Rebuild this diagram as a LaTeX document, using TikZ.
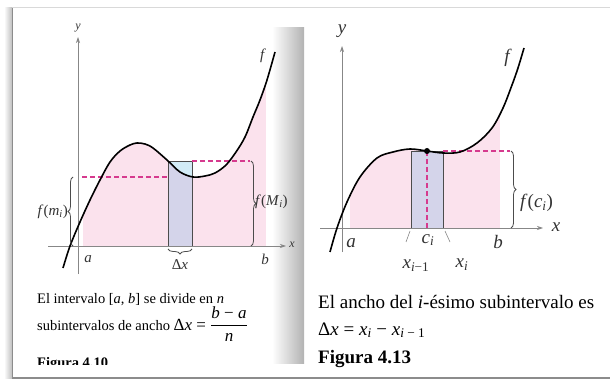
\documentclass[tikz,border=0pt]{standalone}
\usepackage{amsmath}
\usepackage{fontspec}
\setmainfont{Liberation Serif}
\usepackage{tikz}
\usetikzlibrary{arrows.meta,decorations.pathreplacing}

\definecolor{areapink}{RGB}{251,226,237}
\definecolor{rectlav}{RGB}{212,212,234}
\definecolor{rectcyan}{RGB}{210,236,247}
\definecolor{dashpink}{RGB}{214,58,142}
\definecolor{axisgray}{RGB}{135,135,135}

\newcommand{\curvel}{plot[smooth,tension=0.55] coordinates {(63,268) (70,246) (80,222) (90,200) (100,180) (110,162) (120,151) (130,145) (137,143) (145,144) (153,148) (167,160) (180,172) (193,177) (205,176) (215,173) (226,165) (236,152) (245,137) (253,117) (260,100) (267,80) (275,52)}}
\newcommand{\curver}{plot[smooth,tension=0.55] coordinates {(330,252) (337,228) (347,202) (360,177) (377,158) (393,152) (410,149) (427,151) (443,153) (460,152) (477,143) (492,128) (503,108) (512,85) (518,68) (524,48)}}

\begin{document}
\begin{tikzpicture}[x=1pt,y=-1pt,
  axis/.style={axisgray,line width=0.7pt,-{Stealth[length=6pt,width=4pt]}},
  fcurve/.style={line width=1.6pt,black},
  dashln/.style={dashpink,line width=1.1pt,dash pattern=on 5pt off 3pt},
  brc/.style={decorate,decoration={brace,amplitude=5pt},line width=0.8pt,black!70},
  lbl/.style={font=\fontsize{15}{17}\selectfont,text=black!80,inner sep=1pt},
  lblr/.style={lbl,font=\fontsize{19}{21}\selectfont},
  capl/.style={anchor=base west,inner sep=0pt,font=\fontsize{14.5}{16}\selectfont},
  capr/.style={capl,font=\fontsize{19}{21}\selectfont},
  box/.style={draw=black!70,line width=0.9pt}]
\useasboundingbox (0,0) rectangle (610,382);
% frame and page shadow
\shade[left color=white,right color=black!25] (4,8) rectangle (12,378);
\draw[black!15,line width=1.2pt] (12,7.5) -- (610,7.5);
\draw[black!45,line width=0.8pt] (12,8) -- (12,378);
\draw[black!45,line width=1.6pt] (12,378) -- (610,378);
\shade[left color=white,right color=black!30] (272,28) rectangle (304,363);

% left figure
\begin{scope}
  \clip \curvel -- (275,400) -- (63,400) -- cycle;
  \fill[areapink] (83,0) rectangle (266,246);
\end{scope}
\fill[rectcyan] (168,161) rectangle (192,246);
\begin{scope}
  \clip \curvel -- (275,400) -- (63,400) -- cycle;
  \fill[rectlav] (168,161) rectangle (192,246);
\end{scope}
\draw[box] (168,161) rectangle (192,246);
\coordinate (lxs) at (48,246);
\coordinate (lxe) at (286,246);
\coordinate (lys) at (78,274);
\coordinate (lye) at (78,37);
\draw[axis] (lxs) -- (lxe);
\draw[axis] (lys) -- (lye);
\draw[dashln] (82,177) -- (168,177);
\draw[dashln] (192,161) -- (250,161);
\draw[fcurve] \curvel;
\draw[brc] (73,246) -- (73,177);
\draw[brc] (251,161) -- (251,246);
\draw[brc] (192,249) -- (168,249);
\foreach \nm/\pos/\txt in {la/{88,259}/a,lb/{265,259}/b,lf/{263,56}/f}
  \node[lbl] (\nm) at (\pos) {\textit{\txt}};
\node[lbl,font=\fontsize{12}{14}\selectfont] (ly) at (78,28) {\textit{y}};
\node[lbl,font=\fontsize{12}{14}\selectfont] (lx) at (292,245) {\textit{x}};
\node[lbl] (ldx) at (180,265) {Δ\textit{x}};
\node[lbl,anchor=east] (lfm) at (69,212) {\textit{f}(\textit{m}\textsubscript{\textit{i}})};
\node[lbl,anchor=west] (lfM) at (254,202) {\textit{f}(\textit{M}\textsubscript{\textit{i}})};
\node[capl] (lcap1) at (37,303) {El intervalo [\textit{a}, \textit{b}] se divide en \textit{n}};
\node[capl] (lcap2) at (37,330) {subintervalos de ancho {\fontsize{17}{19}\selectfont Δ\textit{x} = $\dfrac{\hbox{\textit{b} − \textit{a}}}{\hbox{\textit{n}}}$}};
\begin{scope}
  \clip (12,340) rectangle (300,364.5);
  \node[capl,font=\fontsize{14.5}{16}\selectfont\bfseries] (lfig) at (37,367) {Figura 4.10};
\end{scope}

% right figure
\begin{scope}
  \clip \curver -- (524,400) -- (330,400) -- cycle;
  \fill[areapink] (350,0) rectangle (500,228);
\end{scope}
\fill[rectlav] (411,151) rectangle (443,228);
\draw[box] (411,151) rectangle (443,228);
\coordinate (rxs) at (320,228);
\coordinate (rxe) at (543,228);
\coordinate (rys) at (342,252);
\coordinate (rye) at (342,46);
\draw[axis] (rxs) -- (rxe);
\draw[axis] (rys) -- (rye);
\coordinate (ci) at (427,151);
\coordinate (cib) at (427,228);
\draw[dashln] (ci) -- (cib);
\draw[dashln] (443,151) -- (510,151);
\draw[fcurve] \curver;
\fill (ci) circle (3);
\draw[brc] (511,151) -- (511,228);
\draw[axisgray,line width=0.6pt] (410,231) -- (406,242);
\draw[axisgray,line width=0.6pt] (445,231) -- (450,242);
\foreach \nm/\pos/\txt in {ry/{342,31}/y,rx/{556,227}/x,ra/{351,243}/a,rb/{498,242}/b,rf/{508,58}/f}
  \node[lblr] (\nm) at (\pos) {\textit{\txt}};
\node[lblr] (rci) at (428,240) {\textit{c}\textsubscript{\textit{i}}};
\node[lblr] (rxa) at (416,266) {\textit{x}\textsubscript{\textit{i}−1}};
\node[lblr] (rxb) at (462,265) {\textit{x}\textsubscript{\textit{i}}};
\node[lblr,anchor=west] (rfc) at (519,203) {\textit{f}(\textit{c}\textsubscript{\textit{i}})};
\node[capr] (rcap1) at (318,308) {El ancho del \textit{i}-ésimo subintervalo es};
\node[capr] (rcap2) at (318,335) {Δ\textit{x} = \textit{x}\textsubscript{\textit{i}} − \textit{x}\textsubscript{\textit{i} − 1}};
\node[capr,font=\fontsize{19}{21}\selectfont\bfseries] (rfig) at (318,363) {Figura 4.13};
\end{tikzpicture}
\end{document}
